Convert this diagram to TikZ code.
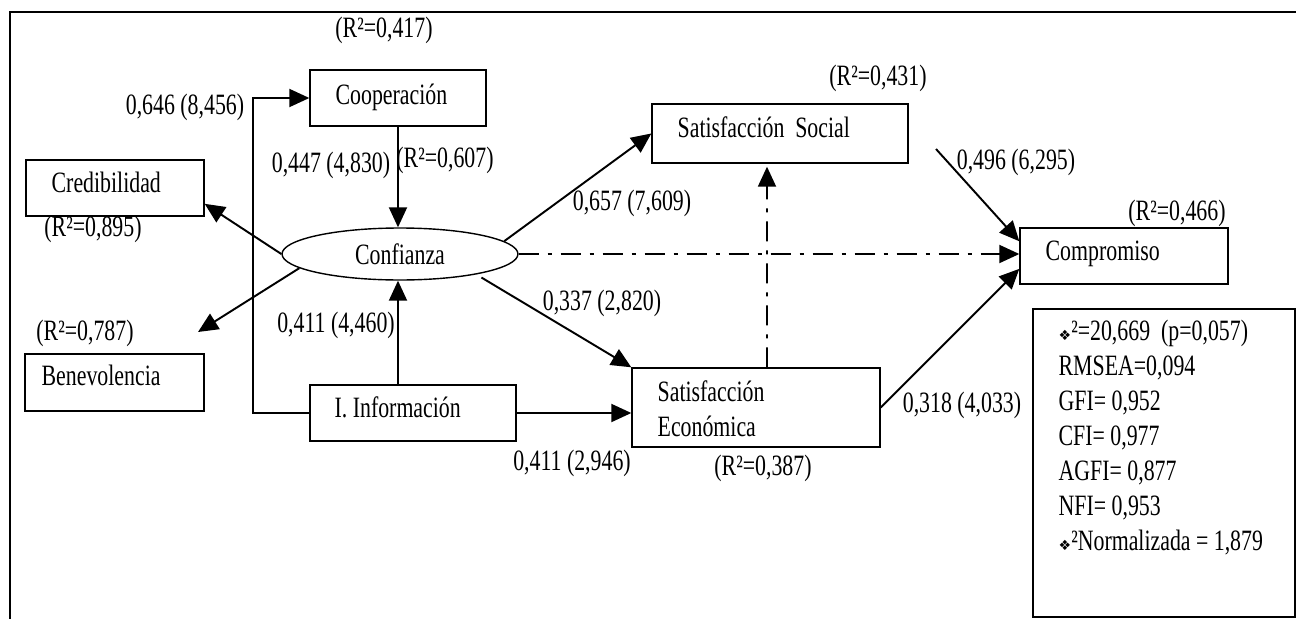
\documentclass[tikz,border=0pt]{standalone}
\usepackage{fontspec}
\setmainfont{Liberation Serif}[FakeStretch=0.74]
\newfontfamily\symfont{DejaVu Sans}
\usetikzlibrary{arrows.meta,shapes.geometric,calc}
\newcommand\pxu{0.2mm}
\begin{document}
\begin{tikzpicture}[x=0.02cm, y=-0.02cm,
  every node/.style={font=\fontsize{16.8}{19}\selectfont},
  box/.style={draw, line width=0.8pt, inner sep=0pt},
  arr/.style={line width=1.1pt, -{Triangle[length=4mm,width=3.6mm]}},
  dd/.style={arr, dash pattern=on 4mm off 1.8mm on 0.8mm off 1.8mm},
  lab/.style={inner sep=0pt},
  txt/.style={inner sep=0pt, anchor=base west}]
\useasboundingbox (0,0) rectangle (1296,619);
\draw[line width=1.2pt] (10,619) -- (10,12) -- (1296,12);

% boxes
\node[box, minimum width=176*\pxu, minimum height=56*\pxu] (coop) at (398,98) {};
\node[txt] (coopT) at ([xshift=26*\pxu, yshift=-6*\pxu]coop.west) {Cooperación};
\node[box, minimum width=178*\pxu, minimum height=56*\pxu] (cred) at (115,188) {};
\node[txt] (credT) at ([xshift=26*\pxu, yshift=-4*\pxu]cred.west) {Credibilidad};
\node[box, minimum width=179*\pxu, minimum height=57*\pxu] (bene) at (114.5,382.5) {};
\node[txt] (beneT) at ([xshift=17*\pxu, yshift=-3*\pxu]bene.west) {Benevolencia};
\node[box, ellipse, minimum width=236*\pxu, minimum height=52*\pxu] (conf) at (400,254) {Confianza};
\node[box, minimum width=206*\pxu, minimum height=56*\pxu] (info) at (413,413) {};
\node[txt] (infoT) at ([xshift=25*\pxu, yshift=-4*\pxu]info.west) {I. Información};
\node[box, minimum width=248*\pxu, minimum height=79*\pxu] (secon) at (756,407.5) {};
\node[inner sep=0pt, anchor=west, align=left, font=\fontsize{16.8}{20}\selectfont] (seconT) at ([xshift=26*\pxu, yshift=-1*\pxu]secon.west) {Satisfacción\\Económica};
\node[box, minimum width=256*\pxu, minimum height=59*\pxu] (ssoc) at (780,133.5) {};
\node[txt] (ssocT) at ([xshift=26*\pxu, yshift=-4*\pxu]ssoc.west) {Satisfacción\ \ Social};
\node[box, minimum width=208*\pxu, minimum height=56*\pxu] (comp) at (1124,256) {};
\node[txt] (compT) at ([xshift=26*\pxu, yshift=-4*\pxu]comp.west) {Compromiso};
\node[box, minimum width=262*\pxu, minimum height=308*\pxu] (fit) at (1164,463) {};
\node[inner sep=0pt, anchor=north west, align=left, font=\fontsize{16.8}{20}\selectfont] (fitT) at ([xshift=26*\pxu, yshift=-11*\pxu]fit.north west)
  {{\symfont\fontsize{8}{8}\selectfont ❖}²=20,669\ \ (p=0,057)\\
   RMSEA=0,094\\
   GFI= 0,952\\
   CFI= 0,977\\
   AGFI= 0,877\\
   NFI= 0,953\\
   {\symfont\fontsize{8}{8}\selectfont ❖}²Normalizada = 1,879};

% helper coordinates
\coordinate (bend) at (253,413);
\coordinate (beneTip) at (198,332);
\coordinate (ssocOut) at (936,149);

% connectors
\draw[arr] (info.west) -- (bend) |- (coop.west);
\draw[arr] (coop.south) -- (coop.south |- conf.north);
\draw[arr] (coop.south |- info.north) -- (coop.south |- conf.south);
\draw[arr] (conf.west) -- (cred.-10);
\draw[arr] (conf.188) -- (beneTip);
\draw[arr] (conf.7) -- (ssoc.west);
\draw[arr, shorten <=6*\pxu] (conf.-15) -- (secon.north west);
\draw[arr] (info.east) -- (info.east -| secon.west);
\draw[dd] ([xshift=11*\pxu]secon.north) -- ([xshift=-13*\pxu, yshift=-3*\pxu]ssoc.south);
\draw[dd] (conf.east) -- (conf.east -| comp.west);
\draw[arr] (ssocOut) -- (comp.172);
\draw[arr] (secon.east) -- (comp.187);

% labels
\node[lab] (r417) at (384,30) {(R²=0,417)};
\node[lab] (l646) at (185,107) {0,646 (8,456)};
\node[lab] (l447) at (331,165) {0,447 (4,830)};
\node[lab] (r607) at (445,160) {(R²=0,607)};
\node[lab] (r895) at (93,229) {(R²=0,895)};
\node[lab] (r787) at (85,333) {(R²=0,787)};
\node[lab] (l411a) at (336,325) {0,411 (4,460)};
\node[lab] (l657) at (632,203) {0,657 (7,609)};
\node[lab] (r431) at (878,78) {(R²=0,431)};
\node[lab] (l337) at (602,303) {0,337 (2,820)};
\node[lab] (l411b) at (572,463) {0,411 (2,946)};
\node[lab] (r387) at (763,468) {(R²=0,387)};
\node[lab] (l318) at (962,405) {0,318 (4,033)};
\node[lab] (l496) at (1016,162) {0,496 (6,295)};
\node[lab] (r466) at (1177,213) {(R²=0,466)};
\end{tikzpicture}
\end{document}
